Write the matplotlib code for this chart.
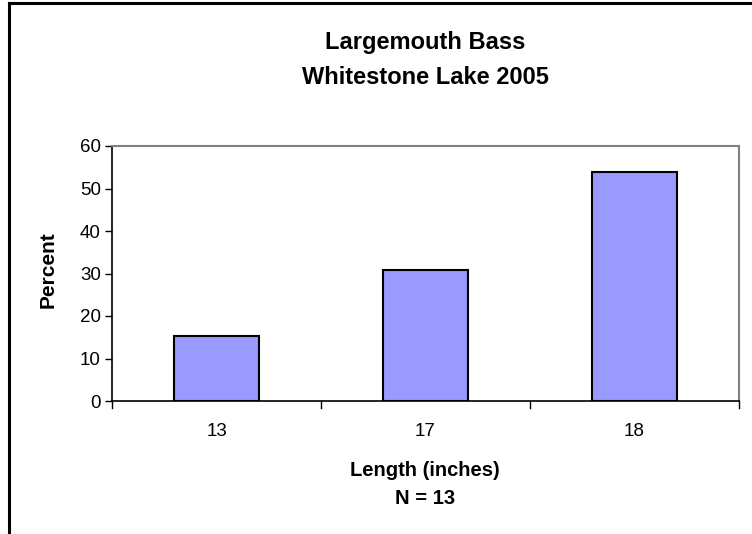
import matplotlib
matplotlib.use("Agg")
import matplotlib.pyplot as plt
from matplotlib.lines import Line2D

plt.rcParams['font.family'] = ['Liberation Sans', 'DejaVu Sans']

lengths = ["13", "17", "18"]
percent = [15.38, 30.77, 53.85]
y_ticks = [0, 10, 20, 30, 40, 50, 60]

fig = plt.figure(figsize=(7.52, 5.34), dpi=100)
W, H = 752, 534
ax = fig.add_axes([112 / W, 1 - 401 / H, (739 - 112) / W, (401 - 146) / H])

x = list(range(len(lengths)))
ax.bar(x, percent, width=0.41, color="#9999ff", edgecolor="black", linewidth=1.5, zorder=3)

ax.set_xlim(-0.5, len(lengths) - 0.5)
ax.set_ylim(0, 60)
ax.set_yticks(y_ticks)
ax.set_yticklabels([str(t) for t in y_ticks], fontsize=13.5)
ax.set_xticks(x)
ax.set_xticklabels(lengths, fontsize=13.5)
ax.tick_params(axis="x", length=0, pad=22)
ax.tick_params(axis="y", direction="out", length=5, width=1, pad=3)
for lbl in ax.get_xticklabels():
    lbl.set_verticalalignment("center")

# category boundary ticks along the x axis
for b in [i - 0.5 for i in range(len(lengths) + 1)]:
    ax.plot([b, b], [0, -1.6], color="black", lw=1, clip_on=False, zorder=4)

for side in ["top", "right"]:
    ax.spines[side].set_color("#808080")
    ax.spines[side].set_linewidth(1.5)
for side in ["left", "bottom"]:
    ax.spines[side].set_color("black")
    ax.spines[side].set_linewidth(1.2)

fig.text(48 / W, 1 - 270 / H, "Percent", ha="center", va="center", rotation=90,
         fontsize=15, fontweight="bold")

fig.text(425 / W, 1 - 43 / H, "Largemouth Bass", ha="center", va="center",
         fontsize=17, fontweight="bold")
fig.text(425 / W, 1 - 77 / H, "Whitestone Lake 2005", ha="center", va="center",
         fontsize=17, fontweight="bold")
fig.text(425 / W, 1 - 470 / H, "Length (inches)", ha="center", va="center",
         fontsize=14.5, fontweight="bold")
fig.text(425 / W, 1 - 498 / H, "N = 13", ha="center", va="center",
         fontsize=14.5, fontweight="bold")

# outer chart border (left and top edges)
fig.add_artist(Line2D([8.5 / W, 8.5 / W], [0, 1 - 2.5 / H], color="black", lw=2.2,
                      transform=fig.transFigure))
fig.add_artist(Line2D([8.5 / W, 1], [1 - 2.5 / H, 1 - 2.5 / H], color="black", lw=2.2,
                      transform=fig.transFigure))

fig.savefig("out.png", dpi=100)
